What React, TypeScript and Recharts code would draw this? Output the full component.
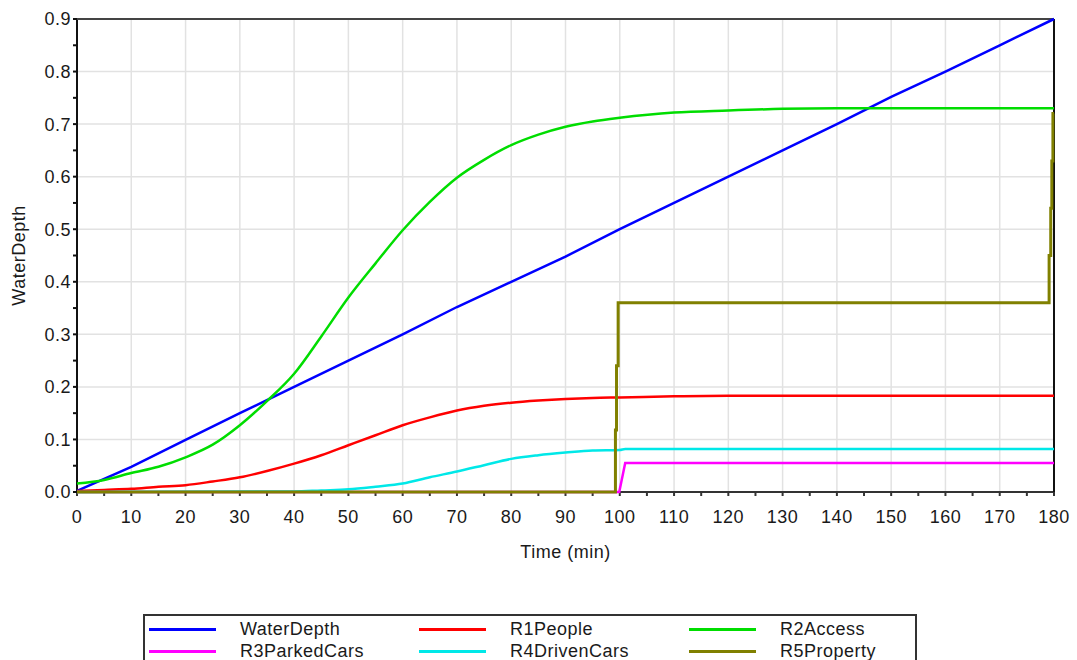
import { LineChart, Line, XAxis, YAxis, CartesianGrid, ReferenceLine } from 'recharts';

// time axis (min) and depth axis tick values, minor ticks every half step
const xTicks = [0, 5, 10, 15, 20, 25, 30, 35, 40, 45, 50, 55, 60, 65, 70, 75, 80, 85, 90, 95, 100, 105, 110, 115, 120, 125, 130, 135, 140, 145, 150, 155, 160, 165, 170, 175, 180];
const xMajor = [0, 10, 20, 30, 40, 50, 60, 70, 80, 90, 100, 110, 120, 130, 140, 150, 160, 170, 180];
const yTicks = [0, 0.05, 0.1, 0.15, 0.2, 0.25, 0.3, 0.35, 0.4, 0.45, 0.5, 0.55, 0.6, 0.65, 0.7, 0.75, 0.8, 0.85, 0.9];
const yMajor = [0, 0.1, 0.2, 0.3, 0.4, 0.5, 0.6, 0.7, 0.8, 0.9];

// WaterDepth
const depthT = [0, 10, 20, 30, 40, 50, 60, 70, 80, 90, 100, 110, 120, 130, 140, 150, 160, 170, 180];
const depthV = [0.002, 0.048, 0.099, 0.15, 0.2, 0.25, 0.3, 0.352, 0.4, 0.448, 0.5, 0.55, 0.6, 0.65, 0.7, 0.752, 0.8, 0.85, 0.9];

// R1People
const peopleT = [0, 5, 10, 15, 20, 25, 30, 35, 40, 45, 50, 55, 60, 65, 70, 75, 80, 85, 90, 95, 100, 110, 120, 180];
const peopleV = [0.002, 0.004, 0.006, 0.01, 0.013, 0.02, 0.028, 0.04, 0.054, 0.07, 0.089, 0.108, 0.127, 0.142, 0.155, 0.164, 0.17, 0.174, 0.177, 0.179, 0.18, 0.182, 0.183, 0.183];

// R2Access
const accessT = [0, 5, 10, 15, 20, 25, 30, 35, 40, 45, 50, 55, 60, 65, 70, 75, 80, 85, 90, 95, 100, 110, 120, 130, 140, 180];
const accessV = [0.016, 0.023, 0.036, 0.048, 0.066, 0.09, 0.127, 0.173, 0.225, 0.296, 0.37, 0.435, 0.498, 0.552, 0.598, 0.632, 0.66, 0.68, 0.695, 0.705, 0.712, 0.722, 0.726, 0.729, 0.73, 0.73];

// R3ParkedCars
const parkedT = [0, 99.9, 101, 180];
const parkedV = [0, 0, 0.055, 0.055];

// R4DrivenCars
const drivenT = [0, 40, 45, 50, 55, 60, 65, 70, 75, 80, 85, 90, 95, 100, 101, 180];
const drivenV = [0, 0.001, 0.003, 0.005, 0.01, 0.016, 0.028, 0.039, 0.051, 0.063, 0.07, 0.075, 0.079, 0.08, 0.082, 0.082];

// R5Property (stepped)
const propertyT = [0, 99.2, 99.2, 99.4, 99.4, 99.7, 99.7, 179.1, 179.1, 179.4, 179.4, 179.6, 179.6, 179.8, 179.8, 180];
const propertyV = [0, 0, 0.118, 0.118, 0.24, 0.24, 0.36, 0.36, 0.45, 0.45, 0.54, 0.54, 0.63, 0.63, 0.72, 0.72];

const pts = (t: number[], v: number[]) => t.map((x, i) => ({ t: x, v: v[i] }));

const series = [
  { name: 'WaterDepth', color: '#0000ff', curve: 'linear', data: pts(depthT, depthV) },
  { name: 'R1People', color: '#ff0000', curve: 'monotone', data: pts(peopleT, peopleV) },
  { name: 'R2Access', color: '#00dd00', curve: 'monotone', data: pts(accessT, accessV) },
  { name: 'R3ParkedCars', color: '#ff00ff', curve: 'linear', data: pts(parkedT, parkedV) },
  { name: 'R4DrivenCars', color: '#00e8e8', curve: 'monotone', data: pts(drivenT, drivenV) },
  { name: 'R5Property', color: '#808000', curve: 'linear', data: pts(propertyT, propertyV) },
];

const FONT = '"Liberation Sans", Arial, sans-serif';
const tickStyle = { fontSize: 18, fill: '#1a1a1a', fontFamily: FONT };

function LegendBox() {
  return (
    <div
      style={{
        position: 'absolute',
        left: 143,
        top: 614,
        width: 774,
        height: 60,
        border: '2px solid #333',
        boxSizing: 'border-box',
        background: '#fff',
        fontFamily: FONT,
        fontSize: 18,
        color: '#1a1a1a',
      }}
    >
      {series.map((s, i) => {
        const col = i % 3;
        const row = Math.floor(i / 3);
        return (
          <div
            key={s.name}
            style={{
              position: 'absolute',
              left: 4 + col * 270,
              top: 2 + row * 22,
              height: 22,
              display: 'flex',
              alignItems: 'center',
            }}
          >
            <div style={{ width: 67, height: 3, background: s.color }} />
            <span style={{ marginLeft: 24 }}>{s.name}</span>
          </div>
        );
      })}
    </div>
  );
}

export default function App() {
  return (
    <div
      style={{
        position: 'fixed',
        left: 0,
        top: 0,
        width: 1077,
        height: 660,
        overflow: 'hidden',
        background: '#fff',
        letterSpacing: 0.5,
      }}
    >
      <LineChart width={1077} height={660} margin={{ top: 19, right: 23, left: 0, bottom: 98 }}>
        <CartesianGrid
          stroke="#e2e2e2"
          strokeWidth={1.5}
          verticalValues={xMajor}
          horizontalValues={yMajor}
        />
        <XAxis
          type="number"
          dataKey="t"
          domain={[0, 180]}
          ticks={xTicks}
          interval={0}
          allowDuplicatedCategory={false}
          tickFormatter={(v: number) => (v % 10 === 0 ? String(v) : '')}
          tick={tickStyle}
          tickSize={4}
          tickMargin={14}
          height={70}
          stroke="#333"
          strokeWidth={2}
          zIndex={-10}
          label={{ value: 'Time (min)', position: 'insideBottom', offset: 4, fontSize: 18, fill: '#1a1a1a', fontFamily: FONT }}
        />
        <YAxis
          type="number"
          domain={[0, 0.9]}
          ticks={yTicks}
          interval={0}
          tickFormatter={(v: number) => (Math.round(v * 100) % 10 === 0 ? v.toFixed(1) : '')}
          tick={tickStyle}
          tickSize={4}
          width={77}
          stroke="#111"
          strokeWidth={2}
          zIndex={-10}
          label={{ value: 'WaterDepth', angle: -90, position: 'center', dx: -20, fontSize: 18, fill: '#1a1a1a', fontFamily: FONT }}
        />
        <ReferenceLine y={0.9} stroke="#444" strokeWidth={2} />
        <ReferenceLine x={180} stroke="#111" strokeWidth={2} />
        {series.map((s) => (
          <Line
            key={s.name}
            data={s.data}
            dataKey="v"
            name={s.name}
            type={s.curve as 'linear' | 'monotone'}
            stroke={s.color}
            strokeWidth={s.name === 'R5Property' ? 3 : 2.5}
            dot={false}
            activeDot={false}
            isAnimationActive={false}
          />
        ))}
      </LineChart>
      <LegendBox />
    </div>
  );
}
